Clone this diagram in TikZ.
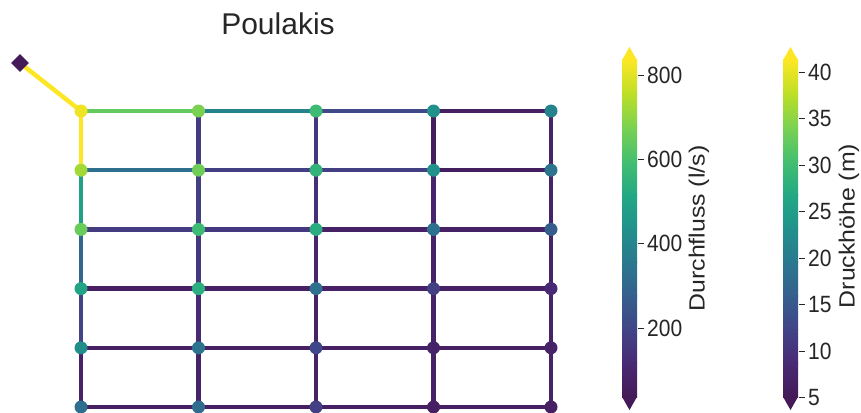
\documentclass[tikz,border=0pt]{standalone}
\usepackage{graphicx}
\usepackage{fontspec}
\setmainfont{Liberation Sans}
\usetikzlibrary{shapes.geometric,backgrounds}
\definecolor{vir0}{HTML}{441A58}
\definecolor{vir1}{HTML}{482974}
\definecolor{vir2}{HTML}{414487}
\definecolor{vir3}{HTML}{355F8D}
\definecolor{vir4}{HTML}{2A788E}
\definecolor{vir5}{HTML}{21918C}
\definecolor{vir6}{HTML}{22A884}
\definecolor{vir7}{HTML}{44BF70}
\definecolor{vir8}{HTML}{7AD151}
\definecolor{vir9}{HTML}{BDDF26}
\definecolor{vir10}{HTML}{FDE725}
\definecolor{txt}{HTML}{262626}
\newcommand\virset[2]{%
  \pgfmathsetmacro\virT{min(max(#2,0),1)*10}%
  \pgfmathtruncatemacro\virI{min(floor(\virT),9)}%
  \pgfmathtruncatemacro\virJ{\virI+1}%
  \pgfmathtruncatemacro\virP{round((\virT-\virI)*100)}%
  \edef\virTmp{\noexpand\colorlet{#1}{vir\virJ!\virP!vir\virI}}\virTmp}
\newcommand\tallnum[1]{\scalebox{1}[1.12]{#1}}
\newcommand\longlab[1]{\scalebox{1.13}[1]{#1}}
\tikzset{
  vfill/.code={\virset{tmpfill}{#1}\pgfkeysalso{fill=tmpfill}},
  vdraw/.code={\virset{tmpdraw}{#1}\pgfkeysalso{draw=tmpdraw}},
  junc/.style={circle, inner sep=0pt, minimum size=13pt, draw=none},
  resv/.style={diamond, inner sep=0pt, minimum size=18pt, draw=none},
  pipe/.style={line width=4.5pt},
  tickmark/.style={draw=txt, line width=1pt},
  ticklab/.style={text=txt, anchor=west, inner sep=0pt, font=\fontsize{21}{25}\selectfont},
  axlab/.style={text=txt, rotate=90, inner sep=0pt, font=\fontsize{22}{26}\selectfont},
}
\begin{document}
\begin{tikzpicture}[x=1pt, y=-1pt]
\useasboundingbox (0,0) rectangle (861,412);
% title
\node[text=txt, anchor=base, inner sep=0pt, font=\fontsize{30}{36}\selectfont] (title) at (278,35) {Poulakis};
% reservoir
\node[resv, vfill=0.0] (res) at (20,63) {};
% junctions
\foreach \c/\r/\t in {
 1/1/0.98, 2/1/0.80, 3/1/0.68, 4/1/0.50, 5/1/0.44,
 1/2/0.86, 2/2/0.78, 3/2/0.65, 4/2/0.50, 5/2/0.38,
 1/3/0.77, 2/3/0.68, 3/3/0.62, 4/3/0.37, 5/3/0.29,
 1/4/0.58, 2/4/0.63, 3/4/0.37, 4/4/0.18, 5/4/0.10,
 1/5/0.49, 2/5/0.38, 3/5/0.21, 4/5/0.06, 5/5/0.06,
 1/6/0.36, 2/6/0.35, 3/6/0.18, 4/6/0.04, 5/6/0.04}
 \node[junc, vfill=\t] (n\c\r) at ({81+(\c-1)*117.5},{111+(\r-1)*59.2}) {};
\begin{pgfonlayer}{background}
\draw[pipe, vdraw=1.0] (res.center) -- (n11.center);
% horizontal pipes
\foreach \c/\d/\r/\t in {
 1/2/1/0.76, 2/3/1/0.44, 3/4/1/0.22, 4/5/1/0.04,
 1/2/2/0.36, 2/3/2/0.18, 3/4/2/0.18, 4/5/2/0.03,
 1/2/3/0.17, 2/3/3/0.16, 3/4/3/0.05, 4/5/3/0.05,
 1/2/4/0.04, 2/3/4/0.05, 3/4/4/0.05, 4/5/4/0.05,
 1/2/5/0.04, 2/3/5/0.04, 3/4/5/0.04, 4/5/5/0.04,
 1/2/6/0.04, 2/3/6/0.04, 3/4/6/0.04, 4/5/6/0.04}
 \draw[pipe, vdraw=\t] (n\c\r.center) -- (n\d\r.center);
% vertical pipes
\foreach \c/\r/\s/\t in {
 1/1/2/1.00, 1/2/3/0.56, 1/3/4/0.33, 1/4/5/0.20, 1/5/6/0.06,
 2/1/2/0.17, 2/2/3/0.18, 2/3/4/0.16, 2/4/5/0.10, 2/5/6/0.06,
 3/1/2/0.15, 3/2/3/0.12, 3/3/4/0.08, 3/4/5/0.06, 3/5/6/0.06,
 4/1/2/0.03, 4/2/3/0.07, 4/3/4/0.06, 4/4/5/0.06, 4/5/6/0.05,
 5/1/2/0.06, 5/2/3/0.06, 5/3/4/0.06, 5/4/5/0.06, 5/5/6/0.06}
 \draw[pipe, vdraw=\t] (n\c\r.center) -- (n\c\s.center);
\end{pgfonlayer}
% colorbars
\foreach \xa in {622,783} {
  \pgfmathsetmacro\xb{\xa+15}
  \pgfmathsetmacro\xm{\xa+7.5}
  \foreach \i in {0,...,9} {
    \pgfmathtruncatemacro\j{\i+1}
    \shade[bottom color=vir\i, top color=vir\j] (\xa,{397-\i*33.7+0.3}) rectangle (\xb,{397-(\i+1)*33.7-0.3});
  }
  \fill[vir10] (\xa,60.2) -- (\xm,47) -- (\xb,60.2) -- cycle;
  \fill[vir0] (\xa,396.8) -- (\xm,410) -- (\xb,396.8) -- cycle;
}
% flow ticks
\foreach \v in {200,400,600,800} {
  \pgfmathsetmacro\yy{75+(800-\v)*0.42167}
  \draw[tickmark] (638,\yy) -- (644,\yy);
  \node[ticklab] (fl\v) at (647,\yy) {\tallnum{\v}};
}
% head ticks
\foreach \v in {5,10,...,40} {
  \pgfmathsetmacro\yy{72+(40-\v)*9.314}
  \draw[tickmark] (799,\yy) -- (805,\yy);
  \node[ticklab] (hd\v) at (808,\yy) {\tallnum{\v}};
}
\node[axlab] (flab) at (699,228.5) {\longlab{Durchfluss (l/s)}};
\node[axlab] (hlab) at (849,226) {\longlab{Druckhöhe (m)}};
\end{tikzpicture}
\end{document}
